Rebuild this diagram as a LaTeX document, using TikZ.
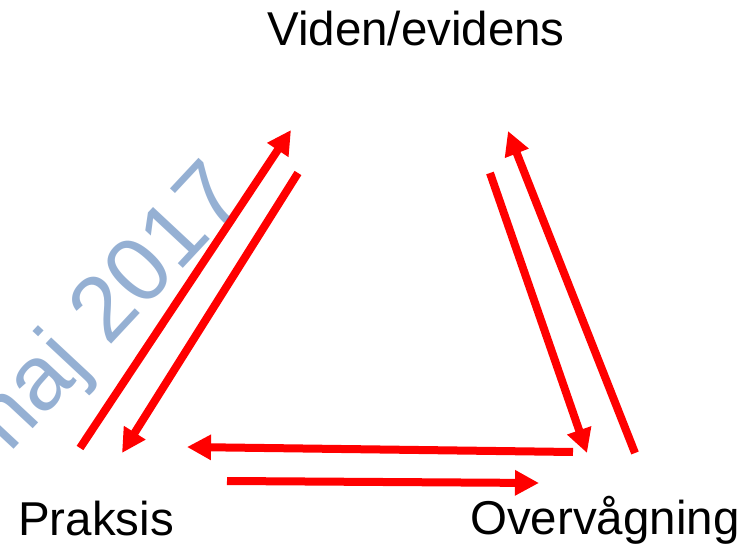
\documentclass[tikz,border=0pt]{standalone}
\usepackage{fontspec}
\setmainfont{Liberation Sans}
\usetikzlibrary{arrows.meta}
\definecolor{markblue}{RGB}{44,98,168}
\begin{document}
\begin{tikzpicture}[x=1pt,y=-1pt,
		flow/.style={red,line width=8pt,-{Triangle[length=24pt,width=24pt]}},
		lbl/.style={inner sep=0pt,font=\fontsize{47.5}{56}\selectfont}]
	\useasboundingbox (0,0) rectangle (753,545);
	%labels
	\node[lbl,anchor=base] (viden) at (416,46) {Viden/evidens};
	\node[lbl,anchor=base west] (praksis) at (18,535) {Praksis};
	\node[lbl,anchor=base west] (overv) at (470,534) {Overvågning};
	%arrow ends
	\coordinate (pv1) at (80,448);   \coordinate (pv2) at (291,130);
	\coordinate (vp1) at (298,173);  \coordinate (vp2) at (122,453);
	\coordinate (vo1) at (490,173);  \coordinate (vo2) at (587,453);
	\coordinate (ov1) at (635,453);  \coordinate (ov2) at (508,131);
	\coordinate (op1) at (573,452);  \coordinate (op2) at (187,447);
	\coordinate (po1) at (227,481);  \coordinate (po2) at (539,483);
	\draw[flow] (pv1) -- (pv2);
	\draw[flow] (vp1) -- (vp2);
	\draw[flow] (vo1) -- (vo2);
	\draw[flow] (ov1) -- (ov2);
	\draw[flow] (op1) -- (op2);
	\draw[flow] (po1) -- (po2);
	%watermark
	\node[inner sep=0pt,anchor=base west,rotate=47,text=markblue,text opacity=0.5,
		font=\fontsize{92}{100}\selectfont] (mark) at (-10,475) {maj 2017};
\end{tikzpicture}
\end{document}
